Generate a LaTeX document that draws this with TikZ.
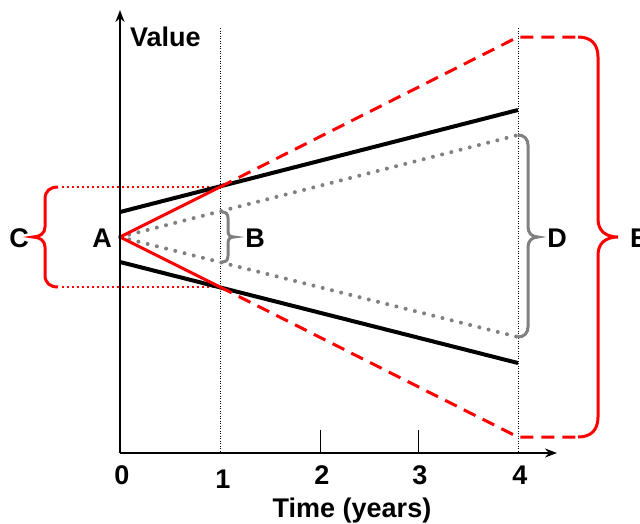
\documentclass[tikz,border=0pt]{standalone}
\usepackage{fontspec}
\setmainfont{Liberation Sans}
\usetikzlibrary{arrows.meta}
\begin{document}
\begin{tikzpicture}[x=1pt,y=-1pt,
  lbl/.style={font=\fontsize{27}{30}\selectfont\bfseries, anchor=base, inner sep=0pt},
  axis/.style={line width=2.5pt, -{Stealth[length=12pt,width=9pt]}},
  thinvdot/.style={line width=0.9pt, dash pattern=on 1pt off 1.5pt},
  tick/.style={line width=0.9pt},
  blk/.style={line width=4pt},
  redsolid/.style={red, line width=3pt},
  reddash/.style={red, line width=3pt, dash pattern=on 13pt off 8pt},
  reddot/.style={red, line width=2pt, dash pattern=on 2pt off 3pt},
  graydot/.style={gray, line width=4pt, line cap=round, dash pattern=on 0pt off 9.5pt},
  bracegray/.style={gray, line width=3pt},
  bracered/.style={red, line width=3pt}]
\useasboundingbox (0,0) rectangle (640,523);
\fill[white] (0,0) rectangle (640,523);

% key coordinates
\coordinate (O) at (120,453);
\coordinate (Ytop) at (120,10);
\coordinate (Xend) at (557,453);
\coordinate (A) at (120,237);
\coordinate (R1u) at (220,187);
\coordinate (R1d) at (220,287);
\coordinate (R4u) at (518,37);
\coordinate (R4d) at (518,437);
\coordinate (Eu) at (578,37);
\coordinate (Ed) at (578,437);
\coordinate (Bu0) at (120,212);
\coordinate (Bd0) at (120,262);
\coordinate (Bu4) at (518,110);
\coordinate (Bd4) at (518,363);
\coordinate (G4u) at (518,135);
\coordinate (G4d) at (518,337);
\coordinate (Cu) at (62,187);
\coordinate (Cd) at (62,287);
\coordinate (V1t) at (220,28);
\coordinate (V1b) at (220,453);
\coordinate (V4t) at (518,28);
\coordinate (V4b) at (518,453);
\coordinate (T2t) at (320,430);
\coordinate (T2b) at (320,453);
\coordinate (T3t) at (418,430);
\coordinate (T3b) at (418,453);

% vertical dotted guides and ticks
\draw[thinvdot] (V1t) -- (V1b);
\draw[thinvdot] (V4t) -- (V4b);
\draw[tick] (T2t) -- (T2b);
\draw[tick] (T3t) -- (T3b);

% red dotted horizontals
\draw[reddot] (Cu) -- (R1u);
\draw[reddot] (Cd) -- (R1d);

% gray dotted lines
\draw[graydot] (A) -- (G4u);
\draw[graydot] (A) -- (G4d);

% black lines
\draw[blk] (Bu0) -- (Bu4);
\draw[blk] (Bd0) -- (Bd4);

% red lines
\draw[redsolid] (A) -- (R1u);
\draw[redsolid] (A) -- (R1d);
\draw[reddash] (R1u) -- (R4u) -- (Eu);
\draw[reddash] (R1d) -- (R4d) -- (Ed);

% axes
\draw[axis] (O) -- (Ytop);
\draw[axis] (O) -- (Xend);

% braces
% E brace (red, right)
\draw[bracered] (Eu) .. controls (591,37) and (598,44) .. (598,57) -- (598,219)
  .. controls (598,231) and (606,237) .. (618,237) .. controls (606,237) and (598,243) .. (598,255)
  -- (598,417) .. controls (598,430) and (591,437) .. (Ed);
% D brace (gray)
\draw[bracegray] (G4u) .. controls (524,135) and (528,139) .. (528,145) -- (528,227)
  .. controls (528,233) and (532,237) .. (538,237) .. controls (532,237) and (528,241) .. (528,247)
  -- (528,327) .. controls (528,333) and (524,337) .. (G4d);
% B brace (gray small)
\draw[bracegray] (222,212) .. controls (226,212) and (228,214) .. (228,218) -- (228,231)
  .. controls (228,235) and (230,237) .. (234,237) .. controls (230,237) and (228,239) .. (228,243)
  -- (228,256) .. controls (228,260) and (226,262) .. (222,262);
% C brace (red, left)
\draw[bracered] (58,187) .. controls (50,187) and (45,191) .. (45,199) -- (45,227)
  .. controls (45,233) and (40,237) .. (33,237) .. controls (40,237) and (45,241) .. (45,247)
  -- (45,275) .. controls (45,283) and (50,287) .. (58,287);

% labels
\node[lbl, anchor=base west] (val) at (130,46) {Value};
\node[lbl] (la) at (102,247) {A};
\node[lbl] (lb) at (255,247) {B};
\node[lbl] (lc) at (19,247) {C};
\node[lbl] (ld) at (557,247) {D};
\node[lbl, anchor=base west] (le) at (630,247) {E};
\node[lbl] (t0) at (122,484) {0};
\node[lbl] (t1) at (223,488) {1};
\node[lbl] (t2) at (322,484) {2};
\node[lbl] (t3) at (420,484) {3};
\node[lbl] (t4) at (520,484) {4};
\node[lbl] (xl) at (352,517) {Time (years)};
\end{tikzpicture}
\end{document}
